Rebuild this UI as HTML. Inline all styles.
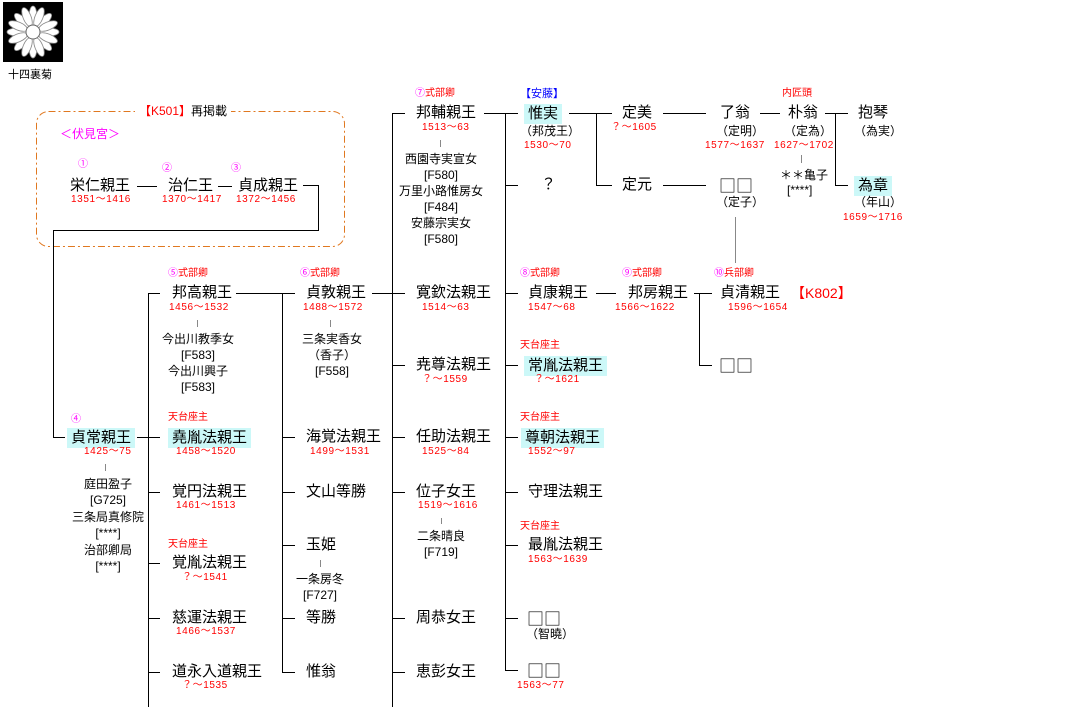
<!DOCTYPE html>
<html><head><meta charset="utf-8"><style>
body{margin:0;width:1070px;height:707px;background:#fff;position:relative;overflow:hidden;font-family:"Liberation Sans","Noto Sans CJK JP",sans-serif;}
div{position:absolute;white-space:nowrap;}
.n{font-size:15px;line-height:18px;color:#000}
.y{font-size:10px;line-height:12px;color:#f00;letter-spacing:0.6px}
.s{font-size:12px;line-height:14px;color:#000;text-align:center}
.t{font-size:10px;line-height:12px;color:#f00}
.m{color:#f0f}
.q{font-family:"Noto Sans CJK JP",sans-serif;font-size:17px;line-height:18px}
.c{background:#ccf8f8;padding:1px 4px;margin-left:-4px}
svg{position:absolute;left:0;top:0}
</style></head><body>
<svg width="1070" height="707">
<rect x="3" y="2" width="60" height="60" fill="#000"/>
<g fill="#fff" stroke="#888" stroke-width="0.8">
<ellipse cx="33" cy="16" rx="4" ry="10"/><ellipse cx="33" cy="48" rx="4" ry="10"/>
<ellipse cx="17" cy="32" rx="10" ry="4"/><ellipse cx="49" cy="32" rx="10" ry="4"/>
<ellipse cx="22" cy="21" rx="4" ry="10" transform="rotate(-45 22 21)"/>
<ellipse cx="44" cy="43" rx="4" ry="10" transform="rotate(-45 44 43)"/>
<ellipse cx="44" cy="21" rx="4" ry="10" transform="rotate(45 44 21)"/>
<ellipse cx="22" cy="43" rx="4" ry="10" transform="rotate(45 22 43)"/>
<ellipse cx="27" cy="17" rx="4" ry="10" transform="rotate(-22 27 17)"/>
<ellipse cx="39" cy="17" rx="4" ry="10" transform="rotate(22 39 17)"/>
<ellipse cx="27" cy="47" rx="4" ry="10" transform="rotate(22 27 47)"/>
<ellipse cx="39" cy="47" rx="4" ry="10" transform="rotate(-22 39 47)"/>
<ellipse cx="18" cy="26" rx="10" ry="4" transform="rotate(22 18 26)"/>
<ellipse cx="48" cy="26" rx="10" ry="4" transform="rotate(-22 48 26)"/>
<ellipse cx="18" cy="38" rx="10" ry="4" transform="rotate(-22 18 38)"/>
<ellipse cx="48" cy="38" rx="10" ry="4" transform="rotate(22 48 38)"/>
</g>
<circle cx="33" cy="32" r="7" fill="#fff" stroke="#666"/>
<rect x="36.5" y="111.5" width="308" height="135" rx="12" fill="none" stroke="#e07820" stroke-dasharray="7,3,2,3"/>
<g stroke="#000" stroke-width="1" fill="none">
<line x1="137" y1="186.5" x2="157" y2="186.5"/>
<line x1="218" y1="186.5" x2="232" y2="186.5"/>
<polyline points="303,185.5 318.5,185.5 318.5,230.5 53.5,230.5 53.5,437.5 65,437.5"/>
<line x1="137" y1="437.5" x2="160" y2="437.5"/>
<line x1="148.5" y1="293" x2="148.5" y2="707"/>
<line x1="148" y1="293.5" x2="160" y2="293.5"/>
<line x1="148" y1="492.5" x2="160" y2="492.5"/>
<line x1="148" y1="563.5" x2="160" y2="563.5"/>
<line x1="148" y1="618.5" x2="160" y2="618.5"/>
<line x1="148" y1="672.5" x2="160" y2="672.5"/>
<line x1="236" y1="293.5" x2="295" y2="293.5"/>
<line x1="282.5" y1="293" x2="282.5" y2="672.5"/>
<line x1="282" y1="437.5" x2="295" y2="437.5"/>
<line x1="282" y1="492.5" x2="295" y2="492.5"/>
<line x1="282" y1="545.5" x2="295" y2="545.5"/>
<line x1="282" y1="618.5" x2="295" y2="618.5"/>
<line x1="282" y1="672.5" x2="295" y2="672.5"/>
<line x1="372" y1="293.5" x2="405" y2="293.5"/>
<line x1="392.5" y1="113" x2="392.5" y2="707"/>
<line x1="392" y1="113.5" x2="405" y2="113.5"/>
<line x1="392" y1="365.5" x2="405" y2="365.5"/>
<line x1="392" y1="437.5" x2="405" y2="437.5"/>
<line x1="392" y1="492.5" x2="405" y2="492.5"/>
<line x1="392" y1="618.5" x2="405" y2="618.5"/>
<line x1="392" y1="672.5" x2="405" y2="672.5"/>
<line x1="484" y1="113.5" x2="518" y2="113.5"/>
<line x1="505.5" y1="113" x2="505.5" y2="670.5"/>
<line x1="505" y1="185.5" x2="518" y2="185.5"/>
<line x1="505" y1="293.5" x2="518" y2="293.5"/>
<line x1="505" y1="365.5" x2="518" y2="365.5"/>
<line x1="505" y1="437.5" x2="518" y2="437.5"/>
<line x1="505" y1="492.5" x2="518" y2="492.5"/>
<line x1="505" y1="545.5" x2="518" y2="545.5"/>
<line x1="505" y1="618.5" x2="518" y2="618.5"/>
<line x1="505" y1="670.5" x2="518" y2="670.5"/>
<line x1="569" y1="113.5" x2="612" y2="113.5"/>
<polyline points="596.5,113 596.5,185.5 612,185.5"/>
<line x1="663" y1="113.5" x2="706" y2="113.5"/>
<line x1="663" y1="185.5" x2="706" y2="185.5"/>
<line x1="760" y1="113.5" x2="780" y2="113.5"/>
<line x1="825" y1="113.5" x2="848" y2="113.5"/>
<polyline points="835.5,113 835.5,185.5 848,185.5"/>
<line x1="596" y1="293.5" x2="616" y2="293.5"/>
<line x1="694" y1="293.5" x2="712" y2="293.5"/>
<polyline points="699.5,293 699.5,365.5 712,365.5"/>
</g>
<g stroke="#888" stroke-width="1">
<line x1="105.5" y1="464" x2="105.5" y2="471"/>
<line x1="197.5" y1="320" x2="197.5" y2="327"/>
<line x1="330.5" y1="320" x2="330.5" y2="327"/>
<line x1="320.5" y1="560" x2="320.5" y2="567"/>
<line x1="440.5" y1="140" x2="440.5" y2="147"/>
<line x1="441.5" y1="518" x2="441.5" y2="524"/>
<line x1="801.5" y1="155" x2="801.5" y2="163"/>
<line x1="735.5" y1="217" x2="735.5" y2="263"/>
</g>
</svg>
<div style="left:8px;top:68px;font-size:11px;line-height:14px">十四裏菊</div>
<div style="left:135px;top:104px;font-size:12px;line-height:14px;background:#fff;padding:0 4px"><span style="color:#f00">【K501】</span>再掲載</div>
<div style="left:60px;top:127px;font-size:12px;line-height:14px;color:#f0f">＜伏見宮＞</div>
<div class="t m" style="left:78px;top:159px">①</div>
<div class="n" style="left:70px;top:177px">栄仁親王</div>
<div class="y" style="left:71px;top:194px">1351～1416</div>
<div class="t m" style="left:162px;top:163px">②</div>
<div class="n" style="left:168px;top:177px">治仁王</div>
<div class="y" style="left:162px;top:194px">1370～1417</div>
<div class="t m" style="left:231px;top:163px">③</div>
<div class="n" style="left:238px;top:177px">貞成親王</div>
<div class="y" style="left:236px;top:194px">1372～1456</div>

<div class="t m" style="left:71px;top:414px">④</div>
<div class="n c" style="left:71px;top:428px">貞常親王</div>
<div class="y" style="left:84px;top:446px">1425～75</div>
<div class="s" style="left:60px;top:476px;width:96px;line-height:16.4px">庭田盈子<br>[G725]<br>三条局真修院<br>[****]<br>治部卿局<br>[****]</div>

<div class="t" style="left:168px;top:268px"><span class="m">⑤</span>式部卿</div>
<div class="n" style="left:172px;top:284px">邦高親王</div>
<div class="y" style="left:169px;top:302px">1456～1532</div>
<div class="s" style="left:150px;top:331px;width:96px;line-height:16px">今出川教季女<br>[F583]<br>今出川興子<br>[F583]</div>
<div class="t" style="left:168px;top:412px">天台座主</div>
<div class="n c" style="left:172px;top:428px">堯胤法親王</div>
<div class="y" style="left:176px;top:446px">1458～1520</div>
<div class="n" style="left:172px;top:483px">覚円法親王</div>
<div class="y" style="left:176px;top:500px">1461～1513</div>
<div class="t" style="left:168px;top:539px">天台座主</div>
<div class="n" style="left:172px;top:554px">覚胤法親王</div>
<div class="y" style="left:182px;top:572px">？～1541</div>
<div class="n" style="left:172px;top:609px">慈運法親王</div>
<div class="y" style="left:176px;top:626px">1466～1537</div>
<div class="n" style="left:172px;top:663px">道永入道親王</div>
<div class="y" style="left:182px;top:680px">？～1535</div>

<div class="t" style="left:300px;top:268px"><span class="m">⑥</span>式部卿</div>
<div class="n" style="left:306px;top:284px">貞敦親王</div>
<div class="y" style="left:303px;top:302px">1488～1572</div>
<div class="s" style="left:284px;top:331px;width:96px;line-height:16px">三条実香女<br>（香子）<br>[F558]</div>
<div class="n" style="left:306px;top:428px">海覚法親王</div>
<div class="y" style="left:310px;top:446px">1499～1531</div>
<div class="n" style="left:306px;top:483px">文山等勝</div>
<div class="n" style="left:306px;top:536px">玉姫</div>
<div class="s" style="left:272px;top:571px;width:96px;line-height:16px">一条房冬<br>[F727]</div>
<div class="n" style="left:306px;top:609px">等勝</div>
<div class="n" style="left:306px;top:663px">惟翁</div>

<div class="t" style="left:415px;top:88px"><span class="m">⑦</span>式部卿</div>
<div class="n" style="left:416px;top:104px">邦輔親王</div>
<div class="y" style="left:422px;top:122px">1513～63</div>
<div class="s" style="left:393px;top:151px;width:96px;line-height:16px">西園寺実宣女<br>[F580]<br>万里小路惟房女<br>[F484]<br>安藤宗実女<br>[F580]</div>
<div class="n" style="left:416px;top:284px">寛欽法親王</div>
<div class="y" style="left:422px;top:302px">1514～63</div>
<div class="n" style="left:416px;top:356px">尭尊法親王</div>
<div class="y" style="left:422px;top:374px">？～1559</div>
<div class="n" style="left:416px;top:428px">任助法親王</div>
<div class="y" style="left:422px;top:446px">1525～84</div>
<div class="n" style="left:416px;top:483px">位子女王</div>
<div class="y" style="left:418px;top:500px">1519～1616</div>
<div class="s" style="left:393px;top:528px;width:96px;line-height:16px">二条晴良<br>[F719]</div>
<div class="n" style="left:416px;top:609px">周恭女王</div>
<div class="n" style="left:416px;top:663px">恵彭女王</div>

<div style="left:520px;top:88px;font-size:11px;line-height:12px;color:#00f">【安藤】</div>
<div class="n c" style="left:528px;top:104px">惟実</div>
<div class="s" style="left:520px;top:124px">（邦茂王）</div>
<div class="y" style="left:524px;top:140px">1530～70</div>
<div class="n" style="left:541px;top:176px">？</div>
<div class="t" style="left:520px;top:268px"><span class="m">⑧</span>式部卿</div>
<div class="n" style="left:528px;top:284px">貞康親王</div>
<div class="y" style="left:528px;top:302px">1547～68</div>
<div class="t" style="left:520px;top:340px">天台座主</div>
<div class="n c" style="left:528px;top:356px">常胤法親王</div>
<div class="y" style="left:534px;top:374px">？～1621</div>
<div class="t" style="left:520px;top:412px">天台座主</div>
<div class="n c" style="left:525px;top:428px">尊朝法親王</div>
<div class="y" style="left:528px;top:446px">1552～97</div>
<div class="n" style="left:528px;top:483px">守理法親王</div>
<div class="t" style="left:520px;top:521px">天台座主</div>
<div class="n" style="left:528px;top:536px">最胤法親王</div>
<div class="y" style="left:528px;top:554px">1563～1639</div>
<div class="n q" style="left:527px;top:609px">□□</div>
<div class="s" style="left:526px;top:627px">（智曉）</div>
<div class="n q" style="left:527px;top:661px">□□</div>
<div class="y" style="left:517px;top:680px">1563～77</div>

<div class="n" style="left:622px;top:104px">定美</div>
<div class="y" style="left:611px;top:122px">？～1605</div>
<div class="n" style="left:622px;top:176px">定元</div>
<div class="n" style="left:720px;top:104px">了翁</div>
<div class="s" style="left:716px;top:124px">（定明）</div>
<div class="y" style="left:705px;top:140px">1577～1637</div>
<div class="n q" style="left:719px;top:176px">□□</div>
<div class="s" style="left:716px;top:195px">（定子）</div>
<div class="t" style="left:782px;top:88px">内匠頭</div>
<div class="n" style="left:788px;top:104px">朴翁</div>
<div class="s" style="left:784px;top:124px">（定為）</div>
<div class="y" style="left:774px;top:140px">1627～1702</div>
<div class="s" style="left:780px;top:168px">＊＊亀子</div>
<div class="s" style="left:787px;top:183px">[****]</div>
<div class="n" style="left:858px;top:104px">抱琴</div>
<div class="s" style="left:854px;top:124px">（為実）</div>
<div class="n c" style="left:858px;top:176px">為章</div>
<div class="s" style="left:854px;top:195px">（年山）</div>
<div class="y" style="left:843px;top:212px">1659～1716</div>

<div class="t" style="left:622px;top:268px"><span class="m">⑨</span>式部卿</div>
<div class="n" style="left:628px;top:284px">邦房親王</div>
<div class="y" style="left:615px;top:302px">1566～1622</div>
<div class="t" style="left:714px;top:268px"><span class="m">⑩</span>兵部卿</div>
<div class="n" style="left:720px;top:284px">貞清親王</div>
<div class="y" style="left:728px;top:302px">1596～1654</div>
<div style="left:791px;top:285px;font-size:14px;line-height:17px;color:#f00">【K802】</div>
<div class="n q" style="left:719px;top:356px">□□</div>
</body></html>
